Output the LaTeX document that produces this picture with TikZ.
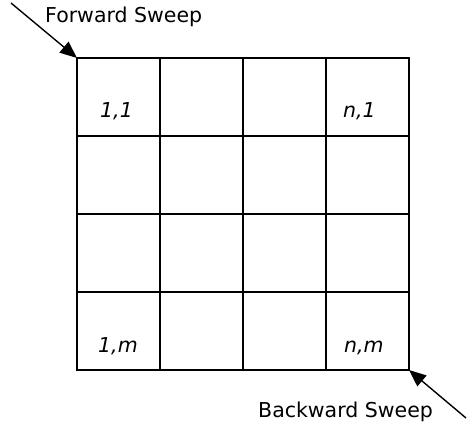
\documentclass[tikz,border=0pt]{standalone}
\usepackage{fontspec}
\setmainfont{DejaVu Sans}
\usepackage{tikz}
\usetikzlibrary{arrows.meta,calc}
\tikzset{
  cellbox/.style={draw,line width=1.6pt,minimum width=83pt,minimum height=78pt,inner sep=0pt,outer sep=0pt},
  sweeplabel/.style={font=\fontsize{20.5}{24}\selectfont,inner sep=0pt,anchor=base west},
  idxlabel/.style={font=\fontsize{20.5}{24}\selectfont\itshape,inner sep=0pt,anchor=base west},
}

\begin{document}
\begin{tikzpicture}[
    x=1pt,y=1pt,
    arr/.style={-{Triangle[length=17pt,width=14pt]},line width=1.4pt},
  ]
  \useasboundingbox (0,0) rectangle (467,432);

  % grid of cells, column i, row j
  \foreach \i in {1,...,4}{
    \foreach \j in {1,...,4}{
      \node[cellbox] (c-\i-\j) at ({77+(\i-0.5)*83},{374-(\j-0.5)*78}) {};
    }
  }

  % corner indices
  \node[idxlabel] (l11) at ($(c-1-1.south west)+(23,18)$) {1,1};
  \node[idxlabel] (ln1) at ($(c-4-1.south west)+(17,18)$) {n,1};
  \node[idxlabel] (l1m) at ($(c-1-4.south west)+(21,17)$) {1,m};
  \node[idxlabel] (lnm) at ($(c-4-4.south west)+(18,17)$) {n,m};

  % Forward
  \node[sweeplabel] (fwd) at (45,409) {Forward Sweep};
  \coordinate (fwdtail) at (11,429);
  \draw[arr] (fwdtail) -- (c-1-1.north west);

  % Backward
  \node[sweeplabel] (bwd) at (258,14) {Backward Sweep};
  \coordinate (bwdtail) at (466,14);
  \draw[arr] (bwdtail) -- (c-4-4.south east);
\end{tikzpicture}
\end{document}
